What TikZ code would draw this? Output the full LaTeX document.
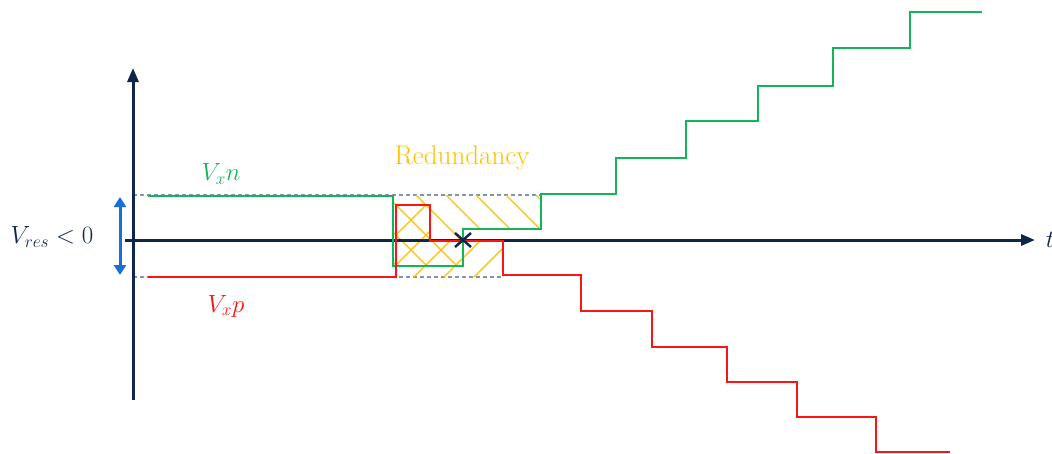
\documentclass[tikz,border=0pt]{standalone}
\usepackage{amsmath,amssymb}
\usepackage{tikz}
\usetikzlibrary{arrows.meta,calc}
\usepackage{xcolor}
\definecolor{cnavy}{RGB}{15,38,75}
\definecolor{cvert}{RGB}{20,180,90}
\definecolor{crouge}{RGB}{250,20,20}
\definecolor{cjaune}{RGB}{255,192,0}
\definecolor{cbleu}{RGB}{25,110,215}
\definecolor{cgris}{RGB}{130,148,175}

\begin{document}
\begin{tikzpicture}[x=1pt, y=-1pt, >={Triangle[length=14pt,width=11pt]},
  limite/.style={cgris, line width=1.3pt, dash pattern=on 4pt off 3pt},
  hachure/.style={cjaune, line width=1.3pt},
  courbe/.style={line width=2.8pt, line join=miter}]
\useasboundingbox (0,0) rectangle (1052,453);
\coordinate (O) at (133,240);
\draw[limite] (133,195) -- (541,195);
\draw[limite] (133,277) -- (503,277);
\begin{scope}
\clip (393,195) -- (541,195) -- (541,229) -- (463,229) -- (463,266) -- (393,266) -- cycle;
\foreach \c in {131,161,...,341} \draw[hachure] (\c,0) -- ++(300,300);
\end{scope}
\begin{scope}
\clip (396,205) -- (430,205) -- (430,240) -- (503,240) -- (503,277) -- (396,277) -- cycle;
\foreach \c in {601,631,...,811} \draw[hachure] (\c,0) -- ++(-300,300);
\end{scope}
\draw[cnavy, line width=3pt, ->] (133,400) -- (133,68);
\draw[cnavy, line width=3pt, ->] (125,240) -- (1035,240) node[right, xshift=6pt] (t) {\fontsize{25}{30}\selectfont$t$};
\draw[courbe, cvert] (148,196) -- (393,196) -- (393,266) -- (463,266) -- (463,229) -- (541,229) -- (541,194)
  -- (616,194) -- (616,158) -- (686,158) -- (686,121) -- (758,121) -- (758,86)
  -- (833,86) -- (833,48) -- (910,48) -- (910,12) -- (982,12);
\draw[courbe, crouge] (148,277) -- (396,277) -- (396,205) -- (430,205) -- (430,241) -- (503,241) -- (503,275)
  -- (581,275) -- (581,311) -- (652,311) -- (652,347) -- (727,347) -- (727,382)
  -- (797,382) -- (797,417) -- (876,417) -- (876,452) -- (950,452);
\coordinate (X) at (463,240);
\draw[cnavy, line width=2.4pt] ($(X)+(-8,-7)$) -- ($(X)+(8,7)$) ($(X)+(-8,7)$) -- ($(X)+(8,-7)$);
\coordinate (Ah) at (120,197);
\coordinate (Ab) at (120,275);
\draw[cbleu, line width=3pt, {Triangle[length=10pt,width=12pt]}-{Triangle[length=10pt,width=12pt]}] (Ah) -- (Ab);
\node[cnavy] (vres) at (52,237) {\fontsize{25.5}{30}\selectfont$V_{res} < 0$};
\node[cvert] (vxn) at (221,174) {\fontsize{24}{29}\selectfont$V_x n$};
\node[crouge] (vxp) at (226,306) {\fontsize{24}{29}\selectfont$V_x p$};
\node[cjaune] (red) at (462,158) {\fontsize{27}{32}\selectfont Redundancy};
\end{tikzpicture}
\end{document}
